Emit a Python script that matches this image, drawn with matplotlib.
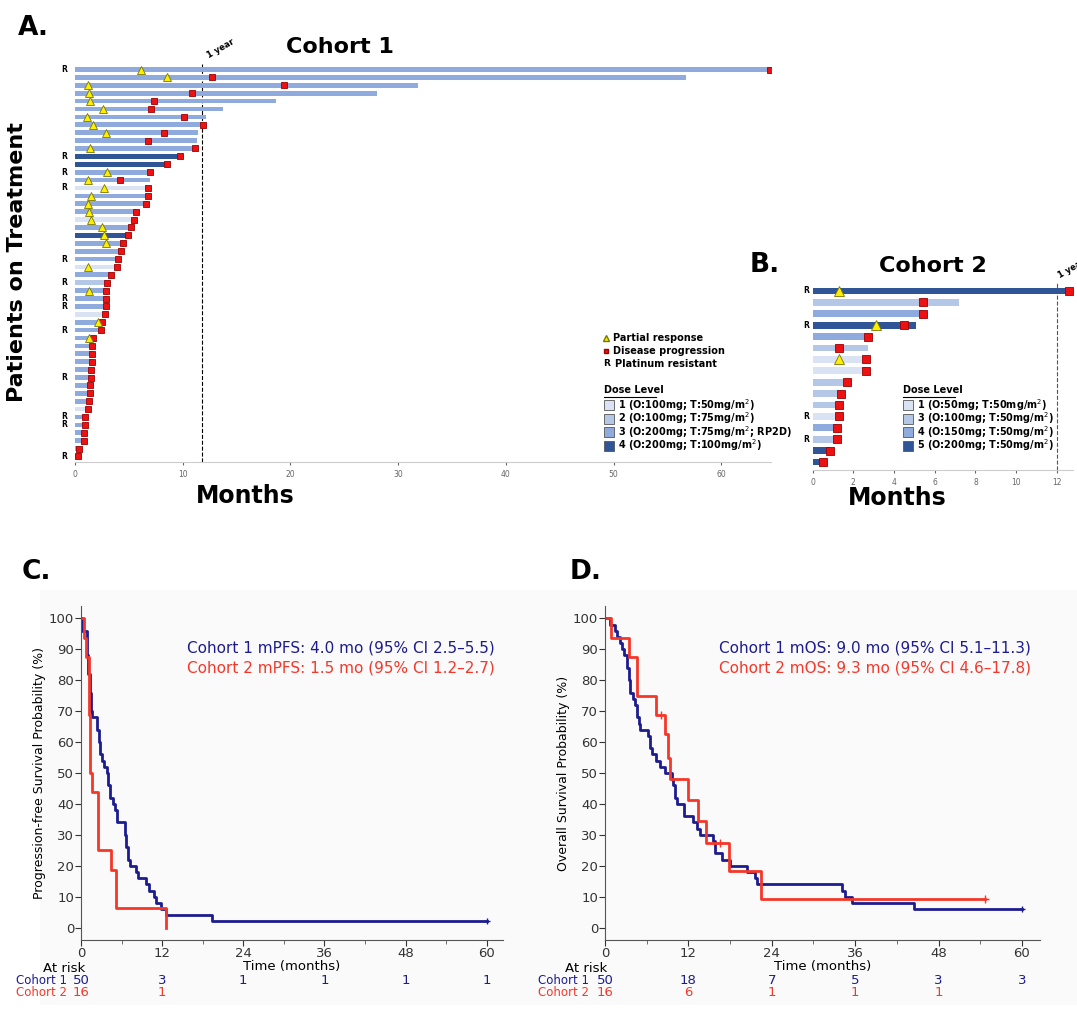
import numpy as np
import matplotlib.pyplot as plt
from matplotlib.patches import Rectangle
from matplotlib.lines import Line2D
import matplotlib.transforms as mtransforms

# ---- swimmer data, cohort 1 (top row first) ----
c1_end = [64.5, 56.7, 31.8, 28.0, 18.7, 13.7, 12.2, 11.9, 11.4, 11.3, 11.1, 9.7, 8.5, 7.0, 7.0,
          6.8, 6.8, 6.6, 5.7, 5.5, 5.2, 4.9, 4.5, 4.3, 4.0, 3.9, 3.3, 3.0, 2.9, 2.9,
          2.9, 2.8, 2.5, 2.4, 1.7, 1.6, 1.6, 1.6, 1.5, 1.5, 1.4, 1.4, 1.3, 1.2, 0.9,
          0.9, 0.8, 0.8, 0.4, 0.3]
c1_pd = [64.5, 12.7, 19.4, 10.9, 7.3, 7.1, 10.1, 11.9, 8.3, 6.8, 11.1, 9.7, 8.5, 7.0, 4.2,
         6.8, 6.8, 6.6, 5.7, 5.5, 5.2, 4.9, 4.5, 4.3, 4.0, 3.9, 3.3, 3.0, 2.9, 2.9,
         2.9, 2.8, 2.5, 2.4, 1.7, 1.6, 1.6, 1.6, 1.5, 1.5, 1.4, 1.4, 1.3, 1.2, 0.9,
         0.9, 0.8, 0.8, 0.4, 0.3]
c1_pr = {1: 6.1, 2: 8.5, 3: 1.2, 4: 1.3, 5: 1.4, 6: 2.6, 7: 1.1, 8: 1.7, 9: 2.9, 11: 1.4,
         14: 3.0, 15: 1.2, 16: 2.7, 17: 1.5, 18: 1.2, 19: 1.3, 20: 1.5, 21: 2.5, 22: 2.7,
         23: 2.9, 26: 1.2, 29: 1.3, 33: 2.1, 35: 1.3}
c1_dose = {12: 4, 13: 4, 22: 4, 16: 1, 20: 1, 26: 1, 32: 1, 44: 1, 28: 2}
c1_R = [1, 12, 14, 16, 25, 28, 30, 31, 34, 40, 45, 46, 50]

# ---- swimmer data, cohort 2 ----
c2_end = [12.8, 7.2, 5.4, 5.1, 2.7, 2.7, 2.6, 2.6, 1.7, 1.4, 1.3, 1.3, 1.2, 1.2, 0.85, 0.5]
c2_pd = [12.6, 5.4, 5.4, 4.5, 2.7, 1.3, 2.6, 2.6, 1.7, 1.4, 1.3, 1.3, 1.2, 1.2, 0.85, 0.5]
c2_pr = {1: 1.3, 4: 3.1, 7: 1.3}
c2_dose = [5, 3, 4, 5, 4, 3, 1, 1, 3, 3, 3, 1, 4, 3, 5, 5]
c2_R = [1, 4, 12, 14]

colA = {1: '#dae3f3', 2: '#b4c7e7', 3: '#8faadc', 4: '#2f5597'}
colB = {1: '#dae3f3', 3: '#b4c7e7', 4: '#8faadc', 5: '#2f5597'}
legA = ['1 (O:100mg; T:50mg/m$^2$)', '2 (O:100mg; T:75mg/m$^2$)',
        '3 (O:200mg; T:75mg/m$^2$; RP2D)', '4 (O:200mg; T:100mg/m$^2$)']
legB = ['1 (O:50mg; T:50mg/m$^2$)', '3 (O:100mg; T:50mg/m$^2$)',
        '4 (O:150mg; T:50mg/m$^2$)', '5 (O:200mg; T:50mg/m$^2$)']

# ---- Kaplan-Meier step data ----
pfs1_t = [0, 0.2, 0.9, 1.1, 1.3, 1.5, 1.7, 2.4, 2.6, 2.8, 3.1, 3.4, 3.8, 4.0, 4.3, 4.7, 5.0, 5.3,
          6.5, 6.7, 6.9, 7.2, 8.2, 8.4, 9.6, 10.1, 10.8, 11.1, 11.8, 12.6, 19.3, 60]
pfs1_s = [100, 96, 88, 82, 76, 70, 68, 64, 60, 56, 54, 52, 50, 46, 42, 40, 38, 34,
          30, 26, 22, 20, 18, 16, 14, 12, 10, 8, 6, 4, 2, 2]
pfs2_t = [0, 0.5, 0.8, 1.2, 1.25, 1.3, 1.35, 1.4, 1.7, 2.5, 4.4, 5.2, 12.6]
pfs2_s = [100, 93.75, 87.5, 75, 68.75, 62.5, 56.25, 50, 43.75, 25, 18.75, 6.25, 0]
os1_t = [0, 0.7, 1.4, 1.7, 2.1, 2.5, 2.8, 3.1, 3.4, 3.6, 4.1, 4.3, 4.6, 4.9, 5.1, 6.2, 6.5, 6.8,
         7.3, 7.9, 8.6, 9.6, 9.8, 10.1, 10.3, 11.4, 12.7, 13.2, 13.7, 15.5, 15.8, 16.8, 18.0,
         20.4, 21.6, 21.9, 34.1, 34.6, 35.6, 44.4, 60]
os1_s = [100, 98, 96, 94, 92, 90, 88, 84, 80, 76, 74, 72, 68, 66, 64, 62, 58, 56,
         54, 52, 50, 48, 46, 42, 40, 36, 34, 32, 30, 28, 24, 22, 20,
         18, 16, 14, 12, 10, 8, 6, 6]
os2_t = [0, 0.8, 3.4, 4.6, 7.3, 8.6, 9.0, 9.4, 11.9, 13.4, 14.6, 17.9, 22.4, 54.7]
os2_s = [100, 93.75, 87.5, 75, 68.75, 62.5, 55, 48.1, 41.2, 34.4, 27.5, 18.3, 9.2, 9.2]
os2_cens_t = [8.0, 16.5, 54.7]
os2_cens_s = [68.75, 27.5, 9.2]

risk_t = [0, 12, 24, 36, 48, 60]
pfs_risk1 = [50, 3, 1, 1, 1, 1]
pfs_risk2 = [16, 1]
os_risk1 = [50, 18, 7, 5, 3, 3]
os_risk2 = [16, 6, 1, 1, 1]

NAVY = '#1c1c8f'
RED = '#f5372a'

fig = plt.figure(figsize=(10.77, 10.16), dpi=100)
W, H = 1077, 1016


def fx(px):
    return px / W


def fy(py):
    return 1 - py / H


def swimmer(ax, ends, pds, prs, doses, rlist, cols, msq, mtri):
    n = len(ends)
    for i in range(n):
        y = n - i
        ax.barh(y, ends[i], height=0.6, color=cols[doses[i]], zorder=2)
        ax.plot(pds[i], y, 's', color='#ee1111', mec='#990000', mew=0.6, ms=msq, zorder=4)
        if (i + 1) in prs:
            ax.plot(prs[i + 1], y, '^', color='#ffee00', mec='#777700', mew=0.6, ms=mtri, zorder=5)
        if (i + 1) in rlist:
            ax.text(-0.012, y, 'R', transform=mtransforms.blended_transform_factory(ax.transAxes, ax.transData),
                    ha='right', va='center', fontsize=5.5, fontweight='bold')
    ax.set_ylim(0.3, n + 0.7)
    ax.set_yticks([])
    for s in ['left', 'top', 'right']:
        ax.spines[s].set_visible(False)
    ax.spines['bottom'].set_color('#cccccc')
    ax.tick_params(axis='x', labelsize=5.5, colors='#666666', length=2)


# ---- panel A ----
axA = fig.add_axes([fx(75), fy(462), fx(771 - 75), fy(64) - fy(462)])
dA = [c1_dose.get(i + 1, 3) for i in range(len(c1_end))]
swimmer(axA, c1_end, c1_pd, c1_pr, dA, c1_R, colA, 4, 6)
axA.set_xlim(0, 64.6)
axA.set_xticks(range(0, 61, 10))
axA.axvline(11.8, color='k', ls='--', lw=0.8, zorder=1)
axA.text(12.1, 51.2, '1 year', rotation=30, fontsize=6, fontweight='bold', ha='left', va='bottom')

# ---- panel B ----
axB = fig.add_axes([fx(812.7), fy(470), fx(1073 - 812.7), fy(283) - fy(470)])
swimmer(axB, c2_end, c2_pd, c2_pr, c2_dose, c2_R, colB, 6, 7)
axB.set_xlim(0, 12.8)
axB.set_xticks(range(0, 13, 2))
axB.axvline(12, color='#555555', ls='--', lw=0.8, zorder=1)
axB.text(12.0, 17.0, '1 yea', rotation=30, fontsize=6, fontweight='bold', ha='left', va='bottom')

# panel labels and titles
fig.text(fx(18), fy(28), 'A.', fontsize=19, fontweight='bold', va='center')
fig.text(fx(340), fy(47), 'Cohort 1', fontsize=16, fontweight='bold', ha='center', va='center')
fig.text(fx(17), fy(262), 'Patients on Treatment', fontsize=16, fontweight='bold', rotation=90,
         ha='center', va='center')
fig.text(fx(245), fy(496), 'Months', fontsize=17, fontweight='bold', ha='center', va='center')
fig.text(fx(750), fy(265), 'B.', fontsize=19, fontweight='bold', va='center')
fig.text(fx(933), fy(266), 'Cohort 2', fontsize=16, fontweight='bold', ha='center', va='center')
fig.text(fx(897), fy(498), 'Months', fontsize=17, fontweight='bold', ha='center', va='center')

# legend A
fig.add_artist(Line2D([fx(606)], [fy(338)], marker='^', color='#ffee00', mec='#777700', ms=5, ls=''))
fig.text(fx(613), fy(338), 'Partial response', fontsize=7, fontweight='bold', va='center')
fig.add_artist(Line2D([fx(606)], [fy(351)], marker='s', color='#ee1111', mec='#990000', ms=3, ls=''))
fig.text(fx(613), fy(351), 'Disease progression', fontsize=7, fontweight='bold', va='center')
fig.text(fx(603), fy(364), 'R', fontsize=6.5, fontweight='bold', va='center')
fig.text(fx(615), fy(364), 'Platinum resistant', fontsize=7, fontweight='bold', va='center')


def dose_legend(x0, y0, labels, cols, keys):
    fig.text(fx(x0), fy(y0), 'Dose Level', fontsize=7, fontweight='bold', va='center')
    fig.add_artist(Line2D([fx(x0), fx(x0 + 52)], [fy(y0 + 7)] * 2, color='k', lw=0.8))
    for j, (lab, k) in enumerate(zip(labels, keys)):
        yy = y0 + 15 + j * 13.5
        fig.add_artist(Rectangle((fx(x0), fy(yy + 5)), fx(10), fy(yy - 5) - fy(yy + 5),
                                 facecolor=cols[k], edgecolor='#555555', lw=0.6))
        fig.text(fx(x0 + 14), fy(yy), lab, fontsize=7, fontweight='bold', va='center')


dose_legend(604, 390, legA, colA, [1, 2, 3, 4])
dose_legend(903, 390, legB, colB, [1, 3, 4, 5])

# ---- panels C and D ----
fig.add_artist(Rectangle((fx(40), fy(1005)), fx(1037), fy(590) - fy(1005), facecolor='#fafafa',
                         edgecolor='none', zorder=-10))


def km_panel(left, right, xmax, c1t, c1s, c2t, c2s, ylabel, txt1, txt2, r1, r2):
    ax = fig.add_axes([fx(left), fy(940), fx(right - left), fy(606) - fy(940)])
    ax.patch.set_alpha(0)
    ax.step(c1t, c1s, where='post', color=NAVY, lw=2)
    ax.step(c2t, c2s, where='post', color=RED, lw=2)
    ax.set_xlim(0, xmax)
    ax.set_ylim(-4, 104)
    ax.set_xticks(range(0, 61, 12))
    ax.set_xticks(range(6, 61, 12), minor=True)
    ax.set_yticks(range(0, 101, 10))
    ax.spines['top'].set_visible(False)
    ax.spines['right'].set_visible(False)
    for s in ['left', 'bottom']:
        ax.spines[s].set_color('#555555')
    ax.tick_params(labelsize=9.5, colors='#333333', length=4, pad=1)
    ax.tick_params(which='minor', length=3, colors='#555555')
    ax.set_xlabel('Time (months)', fontsize=9.5, labelpad=0)
    ax.set_ylabel(ylabel, fontsize=9, labelpad=2)
    ax.text(0.98, 0.86, txt1, transform=ax.transAxes, color=NAVY, fontsize=11, ha='right')
    ax.text(0.98, 0.80, txt2, transform=ax.transAxes, color=RED, fontsize=11, ha='right')
    tr = mtransforms.blended_transform_factory(ax.transData, fig.transFigure)
    for t, v in zip(risk_t, r1):
        ax.text(t, fy(981), str(v), transform=tr, color=NAVY, fontsize=9.5, ha='center', va='center')
    for t, v in zip(risk_t, r2):
        ax.text(t, fy(993), str(v), transform=tr, color=RED, fontsize=9.5, ha='center', va='center')
    return ax


axC = km_panel(81, 503, 62.4, pfs1_t, pfs1_s, pfs2_t, pfs2_s,
               'Progression-free Survival Probability (%)',
               'Cohort 1 mPFS: 4.0 mo (95% CI 2.5\u20135.5)',
               'Cohort 2 mPFS: 1.5 mo (95% CI 1.2\u20132.7)', pfs_risk1, pfs_risk2)
axC.plot([60], [2], '+', color=NAVY, ms=5)
axD = km_panel(605, 1040, 62.6, os1_t, os1_s, os2_t, os2_s,
               'Overall Survival Probability (%)',
               'Cohort 1 mOS: 9.0 mo (95% CI 5.1\u201311.3)',
               'Cohort 2 mOS: 9.3 mo (95% CI 4.6\u201317.8)', os_risk1, os_risk2)
axD.plot(os2_cens_t, os2_cens_s, '+', color=RED, ms=6)
axD.plot([60], [6], '+', color=NAVY, ms=5)

for x0, lab in [(30, 'C.'), (578, 'D.')]:
    fig.text(fx(x0 - 8), fy(572), lab, fontsize=19, fontweight='bold', va='center')
for x0 in [16, 538]:
    fig.text(fx(x0 + 48), fy(968), 'At risk', fontsize=9.5, ha='center', va='center')
    fig.text(fx(x0), fy(981), 'Cohort 1', fontsize=8.5, color=NAVY, va='center')
    fig.text(fx(x0), fy(993), 'Cohort 2', fontsize=8.5, color=RED, va='center')

fig.savefig('out.png', dpi=100)
